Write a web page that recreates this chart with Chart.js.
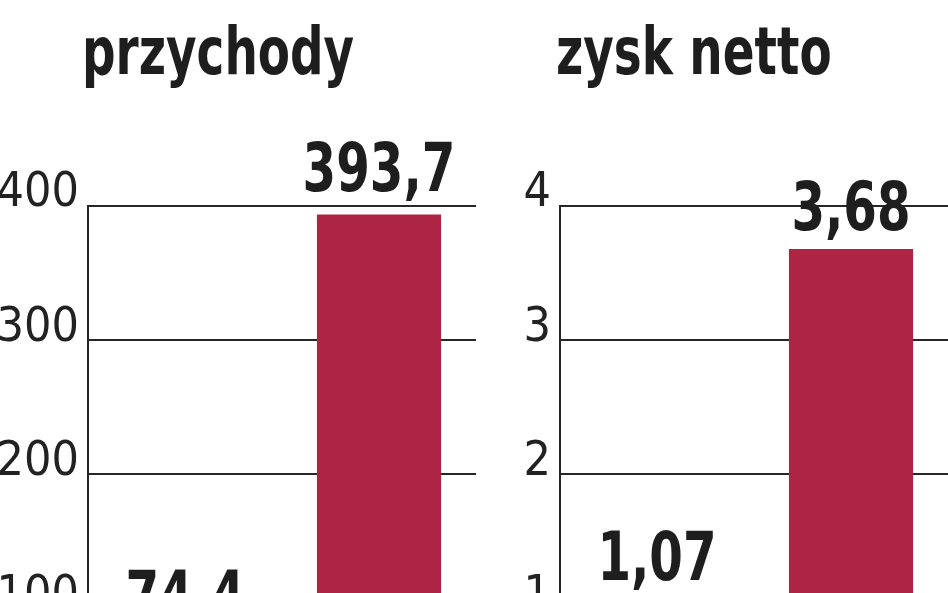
<!DOCTYPE html>
<html lang="pl">
<head>
<meta charset="utf-8">
<title>przychody / zysk netto</title>
<script src="https://cdn.jsdelivr.net/npm/chart.js@4/dist/chart.umd.min.js"></script>
<style>
  html, body { margin: 0; padding: 0; background: #fff; overflow: hidden; }
  body { width: 948px; height: 593px; position: relative; }
  .panel { position: absolute; top: 0; height: 780px; }
  #left { left: 0; width: 476px; }
  #right { left: 474px; width: 474px; }
  .title {
    position: absolute; margin: 0; top: 12px;
    font-family: "Liberation Sans Narrow", "DejaVu Sans Condensed", sans-serif;
    font-weight: bold; font-size: 66px; color: #1e1e1e; line-height: 80px;
    transform: scaleX(0.79); transform-origin: left center; white-space: nowrap;
  }
</style>
</head>
<body>
<h2 class="title" style="left: 82px;">przychody</h2>
<h2 class="title" style="left: 556px;">zysk netto</h2>
<div class="panel" id="left"><canvas id="revenueChart"></canvas></div>
<div class="panel" id="right"><canvas id="profitChart"></canvas></div>

<script>
// data (bottom part is cut off in the reference)
const periods = ['okres 1', 'okres 2'];
const revenueValues = [74.4, 393.7];
const profitValues = [1.07, 3.68];
const revenueTicks = [0, 100, 200, 300, 400];
const profitTicks = [0, 1, 2, 3, 4];

const barColor = '#ae2443';
const lineColor = '#262626';
const narrow = '"Liberation Sans Narrow", "DejaVu Sans Condensed", sans-serif';

// draws the bold numbers above the bars (squeezed a bit, the original font is narrow)
const valueLabels = {
    id: 'valueLabels',
    afterDatasetsDraw(chart, args, opts) {
        const ctx = chart.ctx;
        const values = chart.data.datasets[0].data;
        ctx.font = 'bold 68px ' + narrow;
        ctx.fillStyle = '#1e1e1e';
        ctx.textAlign = 'center';
        ctx.textBaseline = 'alphabetic';
        chart.getDatasetMeta(0).data.forEach((bar, i) => {
            const text = String(values[i]).replace('.', ',');
            ctx.save();
            ctx.translate(bar.x, bar.y - opts.gap);
            ctx.scale(0.79, 1);
            ctx.fillText(text, 0, 0);
            ctx.restore();
        });
    }
};

function makeChart(canvasId, values, ticks, axisWidth, gap) {
    const ctx = document.getElementById(canvasId).getContext('2d');
    return new Chart(ctx, {
        type: 'bar',
        data: {
            labels: periods,
            datasets: [{
                data: values,
                backgroundColor: barColor,
                borderWidth: 0,
                barPercentage: 0.8,
                categoryPercentage: 0.8
            }]
        },
        options: {
            responsive: true,
            maintainAspectRatio: false,
            animation: false,
            layout: { padding: { top: 206, bottom: 24, right: 0 } },
            plugins: {
                legend: { display: false },
                tooltip: { enabled: false },
                valueLabels: { gap: gap }
            },
            scales: {
                x: { display: false },
                y: {
                    min: ticks[0],
                    max: ticks[ticks.length - 1],
                    afterBuildTicks: scale => {
                        scale.ticks = ticks.map(v => ({ value: v }));
                    },
                    afterFit: scale => { scale.width = axisWidth; },
                    border: { color: lineColor, width: 2 },
                    grid: { color: lineColor, lineWidth: 2, drawTicks: false },
                    ticks: {
                        color: '#222',
                        font: { family: narrow, size: 48 },
                        padding: 9,
                        labelOffset: -12
                    }
                }
            }
        },
        plugins: [valueLabels]
    });
}

makeChart('revenueChart', revenueValues, revenueTicks, 88, 23);
makeChart('profitChart', profitValues, profitTicks, 86, 19);
</script>
</body>
</html>
